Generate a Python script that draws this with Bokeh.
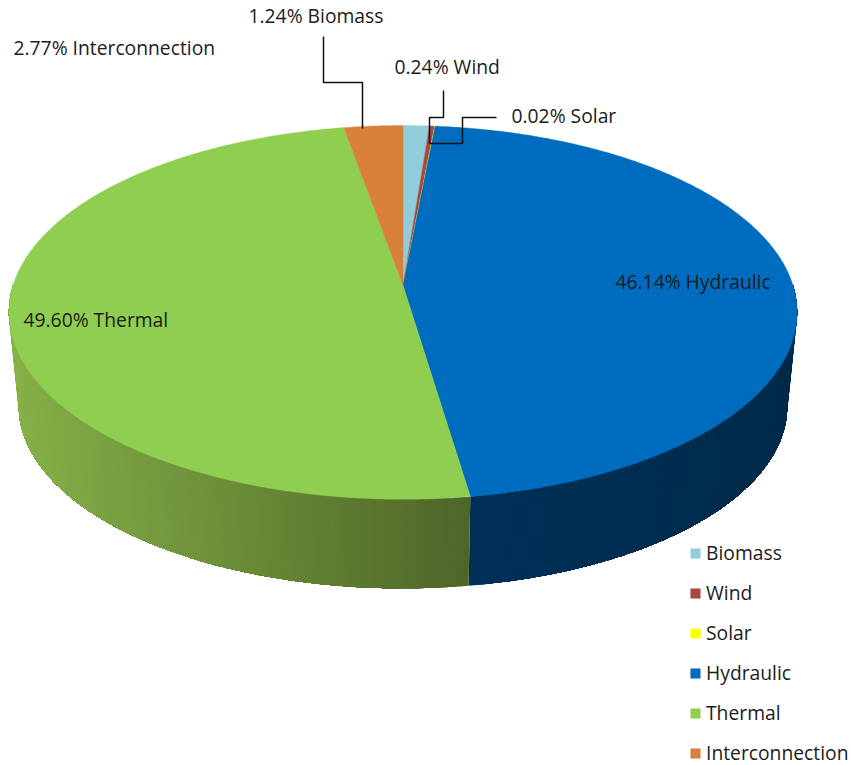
import numpy as np
from bokeh.embed import file_html
from bokeh.resources import INLINE
from bokeh.plotting import figure
from bokeh.models import Legend, LegendItem
from bokeh.core.properties import value

categories = ["Biomass", "Wind", "Solar", "Hydraulic", "Thermal", "Interconnection"]
shares = [1.24, 0.24, 0.02, 46.14, 49.60, 2.77]
slice_colors = ["#92cddc", "#aa4644", "#ffff00", "#006cbf", "#8fce50", "#d9813b"]

# side-wall shading: colour at the front edge and at the far end of each visible wall
wall_shades = {"Hydraulic": ("#003058", "#002a49"), "Thermal": ("#4e6628", "#86b148")}

# pie geometry, in page pixels
CX, APEX_TOP, APEX_BOTTOM, WALL_SCALE = 402.5, 285.0, 379.4, 0.975
A, B, K = 390.0, 183.0, 0.144


def project(theta, apex, scale=1.0):
    """Perspective projection of a point on the pie rim (theta clockwise from the top)."""
    d = 1 + K * np.cos(theta)
    return CX + scale * A * np.sin(theta) / d, apex - scale * B * np.cos(theta) / d


def rgb(h):
    return np.array([int(h[i:i + 2], 16) for i in (1, 3, 5)], dtype=float)


def mix(a, b, t):
    c = rgb(a) * (1 - t) + rgb(b) * t
    return "#%02x%02x%02x" % tuple(int(round(v)) for v in c)


p = figure(width=851, height=765, x_range=(0, 851), y_range=(765, 0),
           output_backend="svg", toolbar_location=None, min_border=0,
           outline_line_color=None, background_fill_color="white")
p.axis.visible = False
p.grid.visible = False

total = sum(shares)
edges = np.concatenate([[0.0], np.cumsum(shares)]) / total * 2 * np.pi

# side walls: painted front to back, each step covering all that remains, so no seams
for i, name in enumerate(categories):
    if name not in wall_shades:
        continue
    start = max(edges[i], np.pi / 2)
    stop = min(edges[i + 1], 3 * np.pi / 2)
    th = np.linspace(start, stop, 121)
    if abs(th[0] - np.pi) > abs(th[-1] - np.pi):
        th = th[::-1]
    front, far = wall_shades[name]
    tx, ty = project(th, APEX_TOP)
    bx, by = project(th, APEX_BOTTOM, WALL_SCALE)
    span = np.abs(tx - tx[0]).max()
    for j in range(len(th) - 1):
        col = mix(front, far, abs(tx[j] - tx[0]) / span)
        p.patch(np.r_[tx[j:], bx[j:][::-1]], np.r_[ty[j:], by[j:][::-1]],
                fill_color=col, line_color=None)

# top surface
items = []
for i, name in enumerate(categories):
    th = np.linspace(edges[i], edges[i + 1], max(4, int((edges[i + 1] - edges[i]) * 120)))
    x, y = project(th, APEX_TOP)
    r = p.patch(np.r_[CX, x], np.r_[APEX_TOP, y], fill_color=slice_colors[i],
                line_color=slice_colors[i], line_width=0.4)
    items.append(LegendItem(label=name, renderers=[r]))

# leader lines
leaders_x = [[323, 323, 362, 362], [443, 443, 429, 429], [496, 462, 462, 429]]
leaders_y = [[36, 82, 82, 128], [90, 117, 117, 143], [117, 117, 143, 143]]
p.multi_line(leaders_x, leaders_y, line_color="#111111", line_width=1.5)

# data labels
label_x = [248, 13, 394, 511, 615, 23]
label_y = [15, 47, 66, 115, 281, 319]
label_i = [0, 5, 1, 2, 3, 4]
texts = ["%.2f%% %s" % (shares[i], categories[i]) for i in label_i]
p.text(x=label_x, y=label_y, text=texts, text_font=value("Open Sans"),
       text_font_size="19.3px", text_align="left", text_baseline="middle",
       text_color="#1c1c1c")

legend = Legend(items=items, location=(689, -1), orientation="vertical",
                background_fill_alpha=0, border_line_color=None,
                glyph_width=12, glyph_height=12, label_standoff=5,
                label_height=20, spacing=13, padding=0, margin=0,
                label_text_font="Open Sans", label_text_font_size="19.3px",
                label_text_color="#1c1c1c")
p.add_layout(legend, "center")

open("out.html", "w").write(file_html(p, INLINE))
